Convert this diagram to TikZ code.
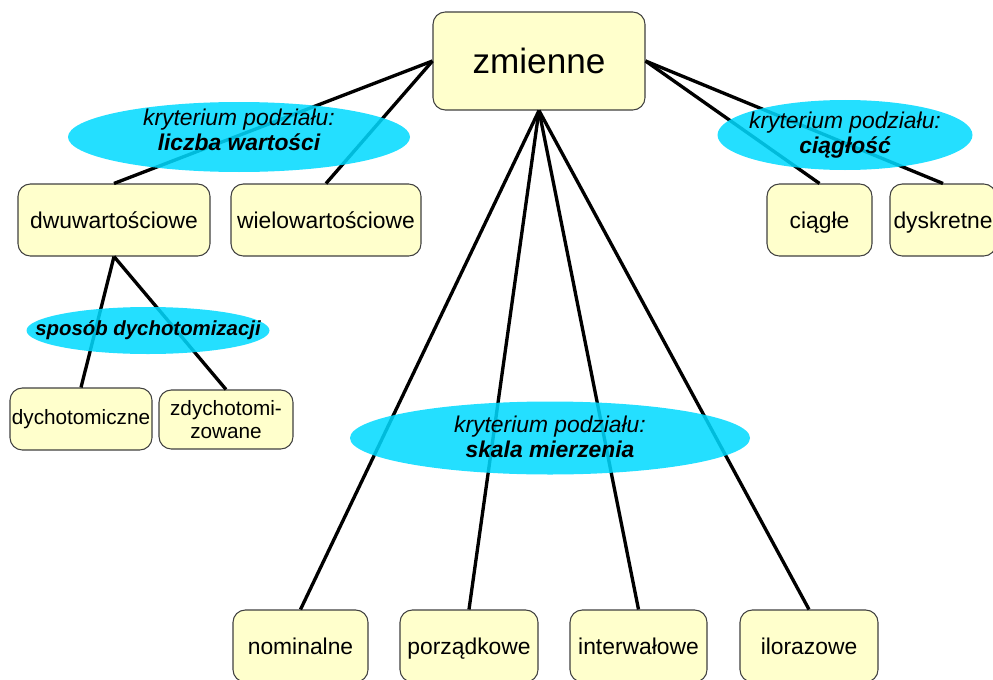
\documentclass[tikz,border=0pt]{standalone}
\usepackage{fontspec}
\setmainfont{Liberation Sans}
\usetikzlibrary{shapes.geometric}
\definecolor{boxyellow}{RGB}{255,255,204}
\definecolor{ovalcyan}{RGB}{0,218,255}
\begin{document}
\begin{tikzpicture}[x=0.02cm,y=-0.02cm,
        box/.style={draw=black!75,line width=0.6pt,fill=boxyellow,rounded corners=7pt,
            minimum height=72*0.02cm,inner sep=0pt,align=center,
            font=\fontsize{13}{14}\selectfont},
        oneline/.style={text height=12.1pt,text depth=2.7pt},
        small/.style={font=\fontsize{11.8}{12.8}\selectfont},
        oval/.style={ellipse,fill=ovalcyan,fill opacity=0.86,inner sep=0pt},
        ovaltext/.style={align=center,inner sep=0pt,font=\fontsize{13}{14.5}\selectfont\itshape},
        link/.style={line width=1.9pt}]
            \useasboundingbox (0,0) rectangle (993,679);

            \node[box,minimum width=212*0.02cm,minimum height=98*0.02cm,font=\fontsize{20}{22}\selectfont] (zm) at (539,61) {zmienne};

            \node[box,oneline,minimum width=192*0.02cm] (dwu) at (114,220) {dwuwartościowe};
            \node[box,oneline,minimum width=190*0.02cm] (wielo) at (326,220) {wielowartościowe};
            \node[box,oneline,minimum width=105*0.02cm] (ciag) at (819.5,220) {ciągłe};
            \node[box,oneline,minimum width=106*0.02cm] (dysk) at (943,220) {dyskretne};

            \node[box,small,minimum width=142*0.02cm,minimum height=62*0.02cm] (dych) at (81,419) {dychotomiczne};
            \node[box,small,minimum width=134*0.02cm,minimum height=59*0.02cm] (zdych) at (226,419.5) {zdychotomi-\\zowane};

            \node[box,oneline,minimum width=135*0.02cm] (nom) at (300.5,646) {nominalne};
            \node[box,oneline,minimum width=138*0.02cm] (porz) at (469,646) {porządkowe};
            \node[box,oneline,minimum width=137*0.02cm] (inter) at (638.5,646) {interwałowe};
            \node[box,oneline,minimum width=138*0.02cm] (iloraz) at (809,646) {ilorazowe};

            \draw[link] (zm.west) -- (dwu.north);
            \draw[link] (zm.west) -- (wielo.north);
            \draw[link] (zm.east) -- (ciag.north);
            \draw[link] (zm.east) -- (dysk.north);
            \draw[link] (zm.south) -- (nom.north);
            \draw[link] (zm.south) -- (porz.north);
            \draw[link] (zm.south) -- (inter.north);
            \draw[link] (zm.south) -- (iloraz.north);
            \draw[link] (dwu.south) -- (dych.north);
            \draw[link] (dwu.south) -- (zdych.north);

            % owale z kryteriami podzialu
            \node[oval,minimum width=342*0.02cm,minimum height=70*0.02cm] (kryt1) at (239,137) {};
            \node[oval,minimum width=255*0.02cm,minimum height=70*0.02cm] (kryt2) at (845,135) {};
            \node[oval,minimum width=243*0.02cm,minimum height=47*0.02cm] (sposob) at (148,330.5) {};
            \node[oval,minimum width=400*0.02cm,minimum height=73*0.02cm] (kryt3) at (550,438) {};

            \node[ovaltext] (kryt1t) at (239,130) {kryterium podziału:\\\textbf{liczba wartości}};
            \node[ovaltext] (kryt2t) at (845,135) {kryterium podziału:\\\textbf{ciągłość}};
            \node[ovaltext,font=\fontsize{11.6}{13}\selectfont\itshape] (sposobt) at (148,330.5) {\textbf{sposób dychotomizacji}};
            \node[ovaltext] (kryt3t) at (550,437) {kryterium podziału:\\\textbf{skala mierzenia}};
        \end{tikzpicture}
\end{document}
